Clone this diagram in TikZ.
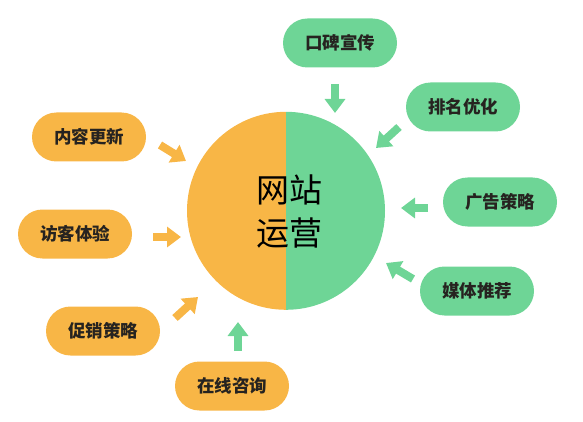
\documentclass[tikz,border=0pt]{standalone}
\usepackage{fontspec}
\setmainfont{Noto Sans CJK SC}
\usepackage{tikz}
\usetikzlibrary{arrows.meta}
\definecolor{pillorange}{HTML}{F8B646}
\definecolor{pillgreen}{HTML}{6ED596}
\definecolor{ink}{HTML}{262320}
\tikzstyle{pill} = [rounded corners=24.5pt,minimum width=114pt,minimum height=49pt,inner sep=0pt,font=\fontsize{17.5}{19}\selectfont\bfseries,text=ink]
\tikzstyle{opill} = [pill,fill=pillorange]
\tikzstyle{gpill} = [pill,fill=pillgreen]
\tikzstyle{blockarrow} = [line width=8pt,-{Triangle[length=14pt,width=20pt]}]
\tikzstyle{oarrow} = [blockarrow,draw=pillorange]
\tikzstyle{garrow} = [blockarrow,draw=pillgreen]

\begin{document}
\begin{tikzpicture}[x=1pt,y=-1pt]
	\useasboundingbox (0,0) rectangle (583,422);
	% centre
	\node[circle,minimum size=198pt,inner sep=0pt] (hub) at (286,211) {};
	\fill[pillorange] (hub.north) arc (90:270:99pt) -- cycle;
	\fill[pillgreen] (hub.north) arc (90:-90:99pt) -- cycle;
	\node[font=\fontsize{33}{43}\selectfont,align=center,text=black] (hubtext) at (289,212) {网站\\运营};
	% left side
	\node[opill] (content) at (89,137) {内容更新};
	\node[opill] (visitor) at (75,234) {访客体验};
	\node[opill] (promo) at (103,331) {促销策略};
	\node[opill] (consult) at (232,386) {在线咨询};
	% right side
	\node[gpill] (mouth) at (340,43) {口碑宣传};
	\node[gpill] (rank) at (463,107) {排名优化};
	\node[gpill] (advert) at (500,202) {广告策略};
	\node[gpill] (media) at (477,291) {媒体推荐};
	% arrows
	\coordinate (content-a) at (160,145); \coordinate (content-b) at (186,161);
	\coordinate (visitor-a) at (153,237); \coordinate (visitor-b) at (181,237);
	\coordinate (promo-a) at (175,318); \coordinate (promo-b) at (198,297);
	\coordinate (consult-a) at (238,351); \coordinate (consult-b) at (238,322);
	\coordinate (mouth-a) at (335,84); \coordinate (mouth-b) at (335,113);
	\coordinate (rank-a) at (399,127); \coordinate (rank-b) at (376,148);
	\coordinate (advert-a) at (428,208); \coordinate (advert-b) at (401,208);
	\coordinate (media-a) at (413,279); \coordinate (media-b) at (386,263);
	\draw[oarrow] (content-a) -- (content-b);
	\draw[oarrow] (visitor-a) -- (visitor-b);
	\draw[oarrow] (promo-a) -- (promo-b);
	\draw[garrow] (consult-a) -- (consult-b);
	\draw[garrow] (mouth-a) -- (mouth-b);
	\draw[garrow] (rank-a) -- (rank-b);
	\draw[garrow] (advert-a) -- (advert-b);
	\draw[garrow] (media-a) -- (media-b);
\end{tikzpicture}
\end{document}
